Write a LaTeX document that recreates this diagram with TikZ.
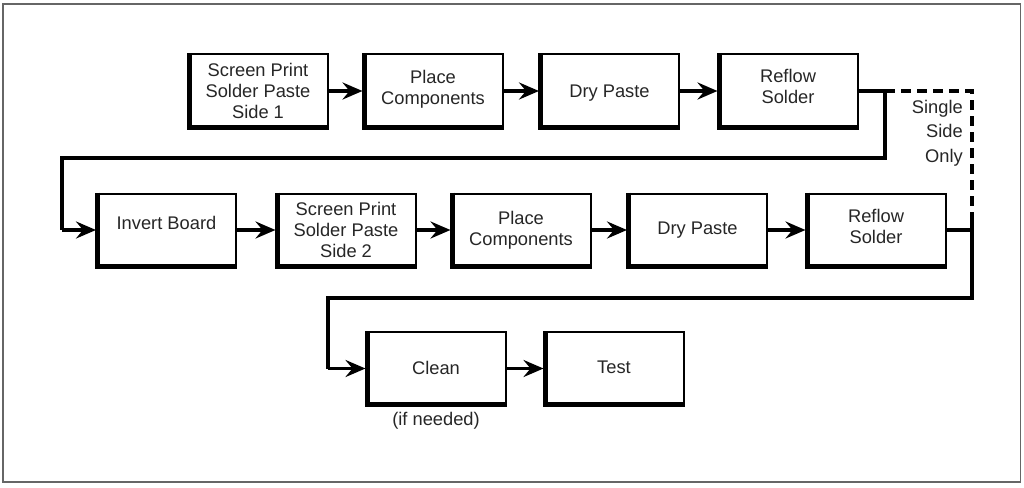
\documentclass[tikz,border=0pt]{standalone}
\usepackage{fontspec}
\setmainfont{Liberation Sans}
\usetikzlibrary{arrows.meta}
\begin{document}
\begin{tikzpicture}[x=1pt,y=-1pt,
  procbox/.style={draw, line width=2pt, minimum width=139pt, minimum height=73pt, inner sep=0pt},
  boxtext/.style={align=center, font=\fontsize{18.3}{21}\selectfont, text=black!85, inner sep=0pt},
  flow/.style={line width=3.4pt, -{Stealth[length=20pt,width=17pt,inset=7pt]}},
  wire/.style={line width=3.4pt},
  dashwire/.style={line width=3.4pt, dash pattern=on 10pt off 6pt},
  lbl/.style={font=\fontsize{18.3}{24}\selectfont, text=black!85, inner sep=0pt}]
\useasboundingbox (0,0) rectangle (1024,487);
\draw[line width=1.2pt, black!60] (3,4) rectangle (1020.5,482);
% row 1
\node[procbox, label={[boxtext]center:{Screen Print\\Solder Paste\\Side 1}}] (a1) at (258,91) {};
\node[procbox, label={[boxtext,yshift=1.5pt]center:{Place\\Components}}] (a2) at (433,91) {};
\node[procbox, label={[boxtext,yshift=-2pt]center:{Dry Paste}}] (a3) at (609.5,91) {};
\node[procbox, label={[boxtext,yshift=4.5pt]center:{Reflow\\Solder}}] (a4) at (788,91) {};
% row 2
\node[procbox, label={[boxtext,yshift=7pt]center:{Invert Board}}] (b1) at (166.5,230) {};
\node[procbox, label={[boxtext]center:{Screen Print\\Solder Paste\\Side 2}}] (b2) at (346,230) {};
\node[procbox, label={[boxtext]center:{Place\\Components}}] (b3) at (521,230) {};
\node[procbox, label={[boxtext]center:{Dry Paste}}] (b4) at (697.5,230) {};
\node[procbox, label={[boxtext,yshift=4pt]center:{Reflow\\Solder}}] (b5) at (876,230) {};
% row 3
\node[procbox, label={[boxtext,yshift=1pt]center:{Clean}}] (c1) at (436,368.5) {};
\node[procbox, label={[boxtext,yshift=1pt]center:{Test}}] (c2) at (614,368.5) {};
\node[lbl] (note) at (436,421) {(if needed)};
\node[lbl, align=right, anchor=north east, font=\fontsize{18.3}{24.5}\selectfont] (single) at (963,100) {Single\\Side\\Only};
% thick left/bottom edges
\foreach \n in {a1,a2,a3,a4,b1,b2,b3,b4,b5,c1,c2}
  \draw[line width=5pt] ([xshift=1.5pt]\n.north west) -- ([xshift=1.5pt,yshift=1.5pt]\n.south west) -- ([yshift=1.5pt]\n.south east);
% coordinates
\coordinate (r1) at (885,91);
\coordinate (r1d) at (885,158);
\coordinate (l1) at (62,158);
\coordinate (l1d) at (62,230);
\coordinate (dtop) at (972,91);
\coordinate (dend) at (972,220);
\coordinate (rb) at (972,230);
\coordinate (rbd) at (972,298);
\coordinate (l2) at (328,298);
\coordinate (l2d) at (328,368.5);
% connectors
\draw[flow] (a1.east) -- (a2.west);
\draw[flow] (a2.east) -- (a3.west);
\draw[flow] (a3.east) -- (a4.west);
\draw[flow] (b1.east) -- (b2.west);
\draw[flow] (b2.east) -- (b3.west);
\draw[flow] (b3.east) -- (b4.west);
\draw[flow] (b4.east) -- (b5.west);
\draw[flow] (c1.east) -- (c2.west);
\draw[wire, line join=miter] (a4.east) -- (r1) -- (r1d) -- (l1) -- (l1d);
\draw[flow] (l1d) -- (b1.west);
\draw[dashwire] (r1) -- (dtop) -- (dend);
\draw[wire] (b5.east) -- (rb);
\draw[wire] (dend) -- (rbd) -- (l2) -- (l2d);
\draw[flow] (l2d) -- (c1.west);
\end{tikzpicture}
\end{document}
